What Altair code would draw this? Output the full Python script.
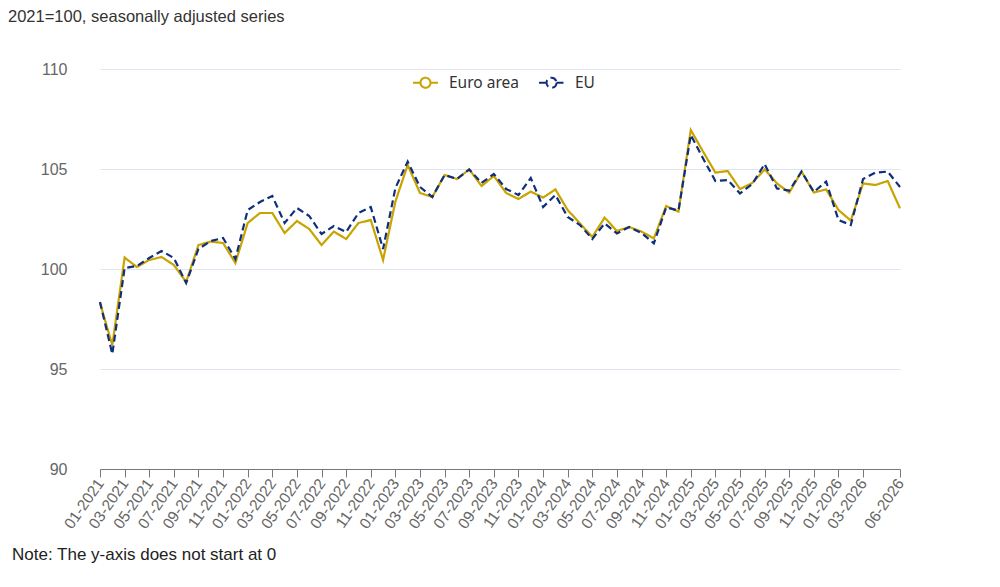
import altair as alt
import pandas as pd

# ---- data ----
years = [2021, 2022, 2023, 2024, 2025, 2026]
months = [f"{m:02d}-{y}" for y in years for m in range(1, 13)][:66]

euro_area = [98.3, 96.2, 100.57, 100.1, 100.45, 100.6, 100.2, 99.35, 101.2, 101.37, 101.3, 100.3,
             102.3, 102.8, 102.8, 101.8, 102.4, 102.0, 101.2, 101.87, 101.5, 102.3, 102.45, 100.45,
             103.37, 105.2, 103.8, 103.6, 104.7, 104.5, 104.98, 104.15, 104.65, 103.8, 103.5, 103.87,
             103.57, 103.98, 102.95, 102.28, 101.6, 102.57, 101.9, 102.1, 101.87, 101.53, 103.15, 102.87,
             106.95, 105.87, 104.82, 104.9, 104.0, 104.3, 104.98, 104.28, 103.82, 104.87, 103.82, 103.98,
             102.95, 102.42, 104.28, 104.2, 104.4, 103.03]

eu = [98.35, 95.75, 100.05, 100.15, 100.55, 100.9, 100.55, 99.3, 101.0, 101.4, 101.55, 100.5,
      102.95, 103.35, 103.65, 102.3, 103.05, 102.65, 101.75, 102.15, 101.85, 102.8, 103.1, 101.0,
      104.05, 105.37, 104.1, 103.6, 104.7, 104.5, 104.98, 104.3, 104.75, 104.0, 103.7, 104.55,
      103.1, 103.7, 102.6, 102.2, 101.5, 102.28, 101.78, 102.1, 101.8, 101.28, 103.08, 102.92,
      106.7, 105.53, 104.4, 104.45, 103.78, 104.25, 105.25, 104.03, 103.92, 104.87, 103.85, 104.37,
      102.45, 102.2, 104.5, 104.82, 104.87, 104.1]

series_names = ["Euro area", "EU"]
series_colors = ["#c9a300", "#0f2f7c"]
tick_labels = months[0:63:2] + [months[-1]]
y_ticks = [90, 95, 100, 105, 110]
subtitle_text = ["2021=100, seasonally adjusted series"]
note_text = ["Note: The y-axis does not start at 0"]

df = pd.DataFrame({
    "month": months * 2,
    "value": euro_area + eu,
    "series": [series_names[0]] * len(months) + [series_names[1]] * len(months),
})

legend_path = ("M-1,0L-0.4,0M0.4,0L1,0M0.4,0A0.4,0.4 0 1 1 -0.4,0"
               "A0.4,0.4 0 1 1 0.4,0Z")

lines = alt.Chart(df).mark_line(strokeWidth=2.2).encode(
    x=alt.X("month:O", sort=months,
            scale=alt.Scale(type="point", padding=0),
            axis=alt.Axis(values=tick_labels, title=None, labelAngle=-55,
                          labelFontSize=15.5, labelColor="#666666",
                          labelFont="Liberation Sans",
                          domainColor="#777780", tickColor="#777780",
                          tickSize=8, labelPadding=3, grid=False)),
    y=alt.Y("value:Q", scale=alt.Scale(domain=[90, 110], nice=False, zero=False),
            axis=alt.Axis(values=y_ticks, title=None, domain=False, ticks=False,
                          labelFontSize=16, labelColor="#666666",
                          labelFont="Liberation Sans", labelPadding=33,
                          gridColor="#e0e4f0", gridWidth=1)),
    color=alt.Color("series:N", sort=series_names,
                    scale=alt.Scale(domain=series_names, range=series_colors),
                    legend=alt.Legend(title=None)),
    strokeDash=alt.StrokeDash("series:N", sort=series_names,
                              scale=alt.Scale(domain=series_names, range=[[1, 0], [7, 4]]),
                              legend=alt.Legend(title=None)),
    detail="series:N",
)

subtitle = alt.Chart(pd.DataFrame({"t": subtitle_text})).mark_text(
    align="left", baseline="middle", fontSize=16.5, font="Liberation Sans", color="#333333"
).encode(x=alt.value(-92), y=alt.value(-52), text="t:N")

note = alt.Chart(pd.DataFrame({"t": note_text})).mark_text(
    align="left", baseline="middle", fontSize=17, font="Liberation Sans", color="#222222"
).encode(x=alt.value(-88), y=alt.value(486), text="t:N")

chart = alt.layer(lines, subtitle, note).properties(
    width=800, height=400,
    autosize=alt.AutoSizeParams(type="none"),
    padding={"left": 92, "top": 61, "right": 92, "bottom": 110},
).configure_view(stroke=None).configure_legend(
    orient="none", legendX=312, legendY=0, direction="horizontal",
    labelFontSize=15.5, labelFont="Noto Sans", labelColor="#333333",
    symbolType=legend_path, symbolSize=625, symbolStrokeWidth=2,
    labelOffset=10, columnPadding=16,
)

chart.save("out.html", embed_options={"renderer": "svg", "actions": False})
